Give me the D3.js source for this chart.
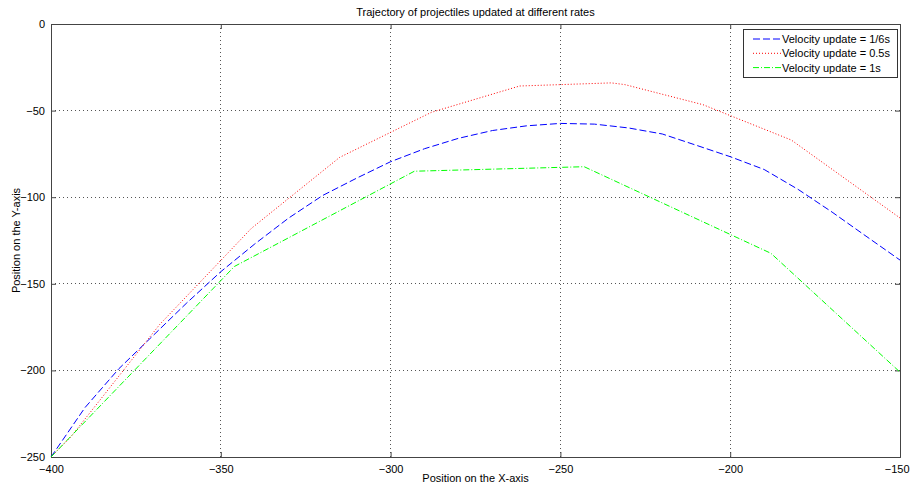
<!DOCTYPE html>
<html>
<head>
<meta charset="utf-8">
<script src="https://cdn.jsdelivr.net/npm/d3@7"></script>
<style>
  body { margin: 0; background: #fff; }
  svg { display: block; font-family: "Liberation Sans", Arial, sans-serif; }
</style>
</head>
<body>
<svg></svg>
<script>
var width = 910;
var height = 487;

// data
var blueX = [-400, -390, -380, -370, -360, -350, -340, -330, -320, -310, -300, -290, -280, -270, -260, -250, -240, -230, -220, -210, -200, -190, -180, -170, -160, -150];
var blueY = [-250, -221.5, -199, -180, -161, -143, -127, -112, -99, -89, -79.5, -72, -66, -61.5, -58.8, -57.4, -57.8, -60, -63.5, -70, -76.6, -84, -95.5, -108.6, -122.5, -136.3];

var redX = [-400, -394, -368, -341, -315, -288, -262, -235, -231, -208, -182, -150];
var redY = [-250, -238, -173.5, -118, -77, -51, -35.8, -34, -35, -46.6, -67, -112];

var greenX = [-400, -346, -293, -243, -188, -150];
var greenY = [-250, -140, -85, -82.4, -132.4, -201];

var xTicks = [-400, -350, -300, -250, -200, -150];
var yTicks = [0, -50, -100, -150, -200, -250];

var seriesNames = ["Velocity update = 1/6s", "Velocity update = 0.5s", "Velocity update = 1s"];
var seriesColors = ["#0000ff", "#ff0000", "#00ff00"];
var seriesDash = ["7,3", "1,2", "6,2,1,2"];

var svg = d3.select("svg")
            .attr("width", width)
            .attr("height", height);

var margin = { left: 51, right: 10, top: 24, bottom: 30 };

var xScale = d3.scaleLinear()
               .domain([-400, -150])
               .range([margin.left, width - margin.right]);

var yScale = d3.scaleLinear()
               .domain([-250, 0])
               .range([height - margin.bottom, margin.top]);

// grid
var grid = svg.append("g");
grid.selectAll(".gx")
  .data(xTicks.slice(1, -1))
  .enter()
  .append("line")
  .attr("x1", function(d) { return xScale(d); })
  .attr("x2", function(d) { return xScale(d); })
  .attr("y1", yScale(0))
  .attr("y2", yScale(-250))
  .attr("stroke", "#555")
  .attr("stroke-width", 1)
  .attr("stroke-dasharray", "1,3")
  .attr("shape-rendering", "crispEdges");

grid.selectAll(".gy")
  .data(yTicks.slice(1, -1))
  .enter()
  .append("line")
  .attr("x1", xScale(-400))
  .attr("x2", xScale(-150))
  .attr("y1", function(d) { return yScale(d); })
  .attr("y2", function(d) { return yScale(d); })
  .attr("stroke", "#555")
  .attr("stroke-width", 1)
  .attr("stroke-dasharray", "1,3")
  .attr("shape-rendering", "crispEdges");

// axes (inward ticks)
var xAxis = svg.append("g")
   .attr("transform", "translate(0," + yScale(-250) + ")")
   .call(d3.axisBottom(xScale).tickValues(xTicks).tickSize(-5).tickPadding(8).tickFormat(d3.format("d")));

svg.append("g")
   .attr("transform", "translate(0," + yScale(0) + ")")
   .call(d3.axisTop(xScale).tickValues(xTicks).tickSize(-5).tickFormat(""));

svg.append("g")
   .attr("transform", "translate(" + xScale(-400) + ",0)")
   .call(d3.axisLeft(yScale).tickValues(yTicks).tickSize(-5).tickPadding(6).tickFormat(d3.format("d")));

svg.append("g")
   .attr("transform", "translate(" + xScale(-150) + ",0)")
   .call(d3.axisRight(yScale).tickValues(yTicks).tickSize(-5).tickFormat(""));

svg.selectAll(".domain").attr("stroke", "#444");
svg.selectAll(".tick line").attr("stroke", "#444");
svg.selectAll(".tick text")
   .attr("font-family", "Liberation Sans, Arial, sans-serif")
   .attr("font-size", 11)
   .attr("fill", "#000");

// keep the last x label inside the window
xAxis.selectAll(".tick text")
  .filter(function(d) { return d === -150; })
  .attr("text-anchor", "end")
  .attr("dx", 9);

// lines
var line = d3.line()
  .x(function(d) { return xScale(d[0]); })
  .y(function(d) { return yScale(d[1]); });

var series = [
  d3.zip(blueX, blueY),
  d3.zip(redX, redY),
  d3.zip(greenX, greenY)
];

svg.selectAll(".series")
  .data(series)
  .enter()
  .append("path")
  .attr("d", line)
  .attr("fill", "none")
  .attr("stroke", function(d, i) { return seriesColors[i]; })
  .attr("stroke-width", 1)
  .attr("stroke-dasharray", function(d, i) { return seriesDash[i]; });

// title and labels
svg.append("text")
   .attr("x", (xScale(-400) + xScale(-150)) / 2)
   .attr("y", 16)
   .attr("text-anchor", "middle")
   .attr("font-size", 11)
   .text("Trajectory of projectiles updated at different rates");

svg.append("text")
   .attr("x", (xScale(-400) + xScale(-150)) / 2)
   .attr("y", 482)
   .attr("text-anchor", "middle")
   .attr("font-size", 11)
   .text("Position on the X-axis");

svg.append("text")
   .attr("transform", "translate(20," + (yScale(-125)) + ") rotate(-90)")
   .attr("text-anchor", "middle")
   .attr("font-size", 11)
   .text("Position on the Y-axis");

// legend
var legend = svg.append("g").attr("transform", "translate(743,29)");
legend.append("rect")
  .attr("width", 154)
  .attr("height", 48)
  .attr("fill", "#fff")
  .attr("stroke", "#333")
  .attr("shape-rendering", "crispEdges");

var items = legend.selectAll(".item")
  .data(seriesNames)
  .enter()
  .append("g")
  .attr("transform", function(d, i) { return "translate(0," + (10 + i * 14.3) + ")"; });

items.append("line")
  .attr("x1", 10)
  .attr("x2", 39)
  .attr("y1", 0)
  .attr("y2", 0)
  .attr("stroke", function(d, i) { return seriesColors[i]; })
  .attr("stroke-dasharray", function(d, i) { return seriesDash[i]; });

items.append("text")
  .attr("x", 39)
  .attr("y", 4)
  .attr("font-size", 11)
  .text(function(d) { return d; });
</script>
</body>
</html>
